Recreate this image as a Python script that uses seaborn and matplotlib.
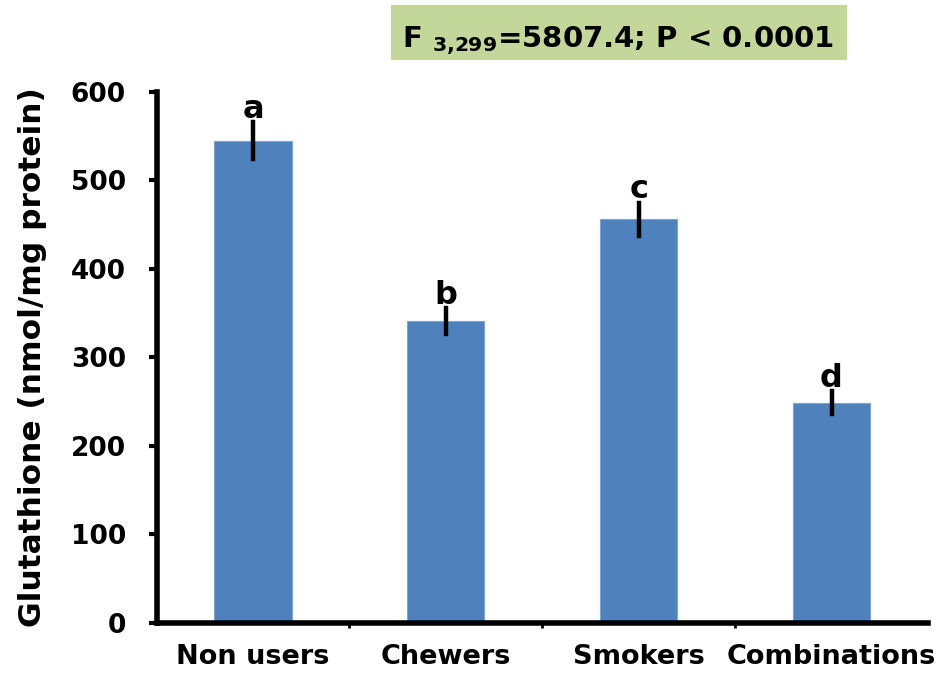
import matplotlib
matplotlib.use("Agg")
import matplotlib.pyplot as plt
from matplotlib.patches import Rectangle
import seaborn as sns

# Glutathione levels by tobacco-use group (mean and error)
categories = ["Non users", "Chewers", "Smokers", "Combinations"]
means = [545, 341, 456, 249]
errors = [21, 15, 19, 13]
letters = ["a", "b", "c", "d"]
yticks = [0, 100, 200, 300, 400, 500, 600]
stat_text = r"F $\mathbf{_{3{,}299}}$=5807.4; P < 0.0001"

sns.set_style("white")
plt.rcParams["font.family"] = ["DejaVu Sans"]
plt.rcParams["font.weight"] = "bold"
plt.rcParams["mathtext.fontset"] = "dejavusans"
for key in ["text.color", "axes.labelcolor", "xtick.color", "ytick.color"]:
    plt.rcParams[key] = "black"

fig = plt.figure(figsize=(9.4, 6.74), dpi=100)
ax = fig.add_axes([0.1665, 0.0757, 0.8207, 0.7878])

sns.barplot(x=categories, y=means, color="#4F81BD", saturation=1,
            width=0.4, errorbar=None, edgecolor="#7FA3D3", linewidth=0.8, ax=ax)
eb = ax.errorbar(x=range(len(categories)), y=means, yerr=errors, fmt="none",
                 ecolor="black", elinewidth=3.2, capsize=0, zorder=3)
for coll in eb.lines[2]:
    coll.set_capstyle("projecting")

for i, (m, e, lt) in enumerate(zip(means, errors, letters)):
    ax.annotate(lt, xy=(i, m + e), xytext=(0, 3), textcoords="offset points",
                ha="center", va="baseline", fontsize=23, fontweight="bold")

ax.set_xlim(-0.5, len(categories) - 0.5)
ax.set_ylim(0, 600)
ax.set_yticks(yticks)
ax.set_yticklabels([str(t) for t in yticks], fontsize=19, fontweight="bold")
ax.set_xticks(range(len(categories)))
ax.set_xticklabels(categories, fontsize=19.5, fontweight="bold")
ax.set_xticks([0.5, 1.5, 2.5], minor=True)

ax.tick_params(axis="y", which="major", direction="out", length=6, width=3,
               color="black", pad=16, left=True)
ax.tick_params(axis="x", which="major", length=0, pad=15)
ax.tick_params(axis="x", which="minor", direction="out", length=3.5, width=2,
               color="black", bottom=True)

for side in ["top", "right"]:
    ax.spines[side].set_visible(False)
for side in ["left", "bottom"]:
    ax.spines[side].set_linewidth(4)
    ax.spines[side].set_color("black")

ax.set_xlabel("")
ax.set_ylabel("Glutathione (nmol/mg protein)", fontsize=22.5, fontweight="bold",
              labelpad=17)

fig.add_artist(Rectangle((391 / 940, 1 - 60 / 674), (847 - 391) / 940, 55 / 674,
                         transform=fig.transFigure, facecolor="#C4D79B",
                         edgecolor="none", zorder=0))
fig.text(402 / 940, 1 - 47 / 674, stat_text, ha="left", va="baseline",
         fontsize=21, fontweight="bold")

fig.savefig("out.png", dpi=100)
